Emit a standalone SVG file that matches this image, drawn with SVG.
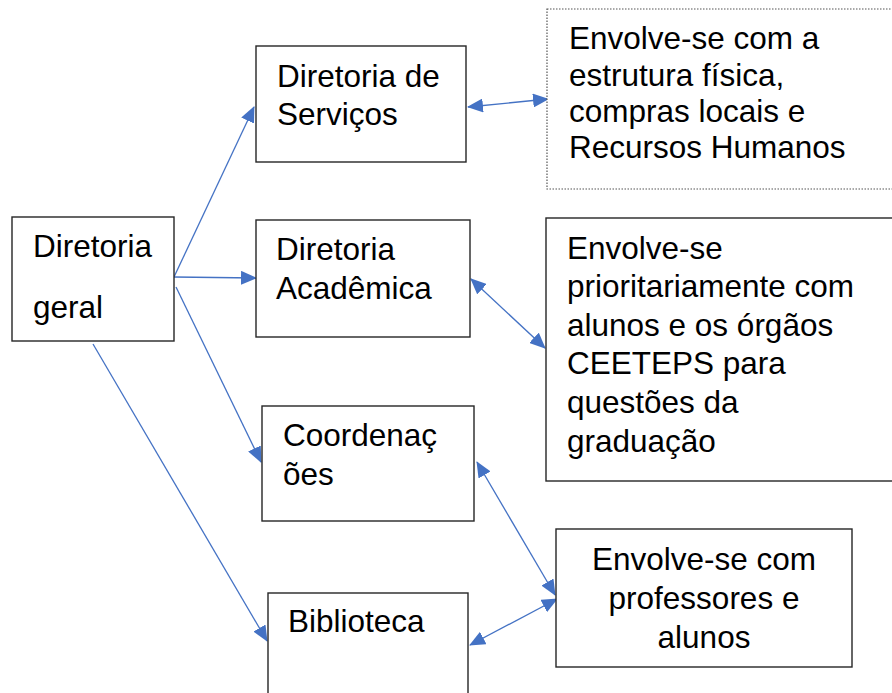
<svg xmlns="http://www.w3.org/2000/svg" width="892" height="693" viewBox="0 0 892 693">
<style>
.box{fill:#fff;stroke:#262626;stroke-width:1.4}
.dot{fill:#fff;stroke:#555;stroke-width:1.2;stroke-dasharray:1.5 1.5}
.t{font-family:"Liberation Sans",Arial,sans-serif;font-size:31.5px;fill:#000}
.c{stroke:#4472C4;stroke-width:1.3;fill:none}
.one{marker-end:url(#ah)}
.two{marker-start:url(#ah);marker-end:url(#ah)}
</style>
<defs>
<marker id="ah" markerUnits="userSpaceOnUse" markerWidth="16" markerHeight="14" refX="15" refY="7" orient="auto-start-reverse" viewBox="0 0 16 14">
<path d="M0,0 L16,7 L0,14 z" fill="#4472C4"/>
</marker>
</defs>
<rect width="892" height="693" fill="#fff"/>
<g id="connectors">
<line class="c one" x1="174" y1="277" x2="254" y2="107"/>
<line class="c one" x1="174" y1="277" x2="256" y2="278"/>
<line class="c one" x1="176" y1="287" x2="261" y2="462"/>
<line class="c one" x1="93" y1="344" x2="267" y2="641"/>
<line class="c two" x1="468" y1="107" x2="548" y2="99"/>
<line class="c two" x1="471" y1="279" x2="545" y2="348"/>
<line class="c two" x1="477" y1="462" x2="555" y2="595"/>
<line class="c two" x1="470" y1="645" x2="557" y2="599"/>
</g>
<g id="diretoria-geral">
<rect class="box" x="12" y="217" width="162" height="124"/>
<text class="t" x="33" y="257">Diretoria</text>
<text class="t" x="33" y="318">geral</text>
</g>
<g id="diretoria-servicos">
<rect class="box" x="256" y="46" width="210" height="116"/>
<text class="t" x="277" y="87">Diretoria de</text>
<text class="t" x="277" y="125">Serviços</text>
</g>
<g id="diretoria-academica">
<rect class="box" x="256" y="220" width="214" height="117"/>
<text class="t" x="276" y="260">Diretoria</text>
<text class="t" x="276" y="299">Acadêmica</text>
</g>
<g id="coordenacoes">
<rect class="box" x="262" y="406" width="212" height="115"/>
<text class="t" x="283" y="446">Coordenaç</text>
<text class="t" x="283" y="485">ões</text>
</g>
<g id="biblioteca">
<rect class="box" x="268" y="593" width="200" height="110"/>
<text class="t" x="288" y="632">Biblioteca</text>
</g>
<g id="nota-servicos">
<rect class="dot" x="547" y="9" width="350" height="180"/>
<text class="t" x="569" y="49">Envolve-se com a</text>
<text class="t" x="569" y="86">estrutura física,</text>
<text class="t" x="569" y="122">compras locais e</text>
<text class="t" x="569" y="158">Recursos Humanos</text>
</g>
<g id="nota-academica">
<rect class="box" x="546" y="218" width="350" height="263"/>
<text class="t" x="567" y="259">Envolve-se</text>
<text class="t" x="567" y="297">prioritariamente com</text>
<text class="t" x="567" y="336">alunos e os órgãos</text>
<text class="t" x="567" y="374">CEETEPS para</text>
<text class="t" x="567" y="413">questões da</text>
<text class="t" x="567" y="452">graduação</text>
</g>
<g id="nota-professores">
<rect class="box" x="556" y="529" width="296" height="138"/>
<text class="t" x="704" y="570" text-anchor="middle">Envolve-se com</text>
<text class="t" x="704" y="609" text-anchor="middle">professores e</text>
<text class="t" x="704" y="648" text-anchor="middle">alunos</text>
</g>
</svg>
